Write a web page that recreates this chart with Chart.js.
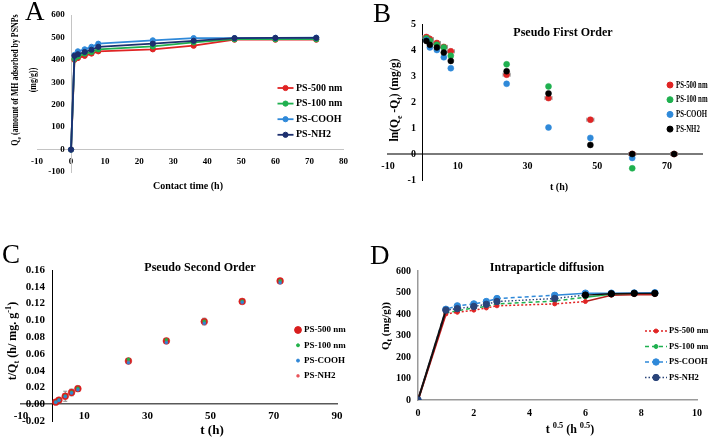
<!DOCTYPE html>
<html>
<head>
<meta charset="utf-8">
<script src="https://cdn.jsdelivr.net/npm/chart.js@4.4.1/dist/chart.umd.min.js"></script>
<style>
  body { margin: 0; background: #fff; width: 709px; height: 438px; position: relative; overflow: hidden; font-family: 'Liberation Serif', 'Times New Roman', serif; }
  canvas { position: absolute; }
  .t { position: absolute; font-weight: bold; white-space: nowrap; color: #000; transform: translate(-50%, -50%); line-height: 1; }
  .rot { transform: translate(-50%, -50%) rotate(-90deg); text-align: center; }
  .letter { position: absolute; font-size: 27px; line-height: 27px; color: #000; }
  .ttl { font-size: 12px; }
  .ax { font-size: 10px; }
  sub, sup { font-size: 70%; line-height: 0; }
</style>
</head>
<body>
<canvas id="chA" width="355" height="219" style="left:0;top:0"></canvas>
<canvas id="chB" width="354" height="219" style="left:355px;top:0"></canvas>
<canvas id="chC" width="355" height="219" style="left:0;top:219px"></canvas>
<canvas id="chD" width="354" height="219" style="left:355px;top:219px"></canvas>

<div class="letter" style="left:25px;top:-2px">A</div>
<div class="letter" style="left:373px;top:0px">B</div>
<div class="letter" style="left:2px;top:241px">C</div>
<div class="letter" style="left:370px;top:242px">D</div>

<div class="t ttl" style="left:563px;top:32px">Pseudo First Order</div>
<div class="t ttl" style="left:200px;top:267px">Pseudo Second Order</div>
<div class="t ttl" style="left:547px;top:267px">Intraparticle diffusion</div>

<div class="t ax" style="left:188px;top:186px">Contact time (h)</div>
<div class="t" style="left:24px;top:80px;line-height:18px;font-size:9.5px;text-align:center;transform:translate(-50%,-50%) rotate(-90deg) scaleX(0.83)">Q<sub>e</sub> (amount of MH adsorbed by PSNPs<br>(mg/g))</div>
<div class="t ax" style="left:559px;top:187px">t (h)</div>
<div class="t rot" style="left:395px;top:100px;font-size:11.5px">ln(Q<sub>e</sub> -Q<sub>t</sub>) (mg/g)</div>
<div class="t" style="left:212px;top:429px;font-size:13px">t (h)</div>
<div class="t rot" style="left:12px;top:341px;font-size:12px">t/Q<sub>t</sub> (h/ mg. g<sup>-1</sup>)</div>
<div class="t" style="left:570px;top:429px;font-size:12px">t <sup>0.5</sup> (h <sup>0.5</sup>)</div>
<div class="t rot" style="left:385px;top:326px;font-size:11px">Q<sub>t</sub> (mg/g))</div>

<script>
// series names
const seriesNames = ['PS-500 nm', 'PS-100 nm', 'PS-COOH', 'PS-NH2'];

// A - amount adsorbed vs contact time (h)
const timeA = [0, 1, 2, 4, 6, 8, 24, 36, 48, 60, 72];
const qA500 = [0, 400, 408, 418, 428, 438, 447, 463, 490, 490, 490];
const qA100 = [0, 405, 415, 428, 435, 447, 460, 478, 492, 492, 492];
const qACOOH = [0, 422, 438, 447, 458, 472, 487, 497, 497, 498, 499];
const qANH2 = [0, 418, 425, 435, 445, 458, 472, 485, 497, 498, 498];
const xTicksA = [-10, 0, 10, 20, 30, 40, 50, 60, 70, 80];
const yTicksA = [-100, 0, 100, 200, 300, 400, 500, 600];

// B - pseudo first order, ln(Qe-Qt)
const timeB = [1, 2, 4, 6, 8, 24, 36, 48, 60, 72];
const lnB500 = [4.5, 4.42, 4.27, 4.12, 3.95, 3.05, 2.15, 1.32, 0, 0];
const lnB100 = [4.45, 4.36, 4.2, 4.1, 3.78, 3.45, 2.6, null, -0.55, null];
const lnBCOOH = [4.38, 4.1, 4.0, 3.72, 3.3, 2.7, 1.02, 0.62, -0.15, null];
const lnBNH2 = [4.35, 4.2, 4.1, 3.9, 3.58, 3.18, 2.33, 0.35, 0, 0];
const errXB500 = [1, 1, 1, 1, 1, 1, 1, 1, 1, 1];
const errYB500 = [0.08, 0.08, 0.08, 0.08, 0.08, 0.08, 0.08, 0.08, 0.08, 0.08];
const xTicksB = [-10, 10, 30, 50, 70];
const yTicksB = [-1, 0, 1, 2, 3, 4, 5];

// C - pseudo second order, t/Qt
const timeC = [1, 2, 4, 6, 8, 24, 36, 48, 60, 72];
const tqC500 = [0.0025, 0.0049, 0.0095, 0.014, 0.0185, 0.0515, 0.0755, 0.0985, 0.1225, 0.147];
const tqC100 = [0.0027, 0.0051, 0.0098, 0.0144, 0.019, 0.0535, 0.0768, 0.099, 0.1228, 0.1472];
const tqCCOOH = [0.0023, 0.0046, 0.0091, 0.0134, 0.0172, 0.0495, 0.0735, 0.0965, 0.1215, 0.1448];
const tqCNH2 = [0.0025, 0.0048, 0.0094, 0.0138, 0.018, 0.051, 0.075, 0.0985, 0.1225, 0.147];
const errC500 = [0.002, 0.002, 0.006, 0.004, 0.003, 0.002, 0.002, 0.004, 0.0015, 0.001];
const xTicksC = [-10, 10, 30, 50, 70, 90];
const yTicksC = [-0.02, 0, 0.02, 0.04, 0.06, 0.08, 0.1, 0.12, 0.14, 0.16];

// D - intraparticle diffusion, sqrt(t)
const sqrtTimeD = [0, 1, 1.41, 2, 2.45, 2.83, 4.9, 6, 6.93, 7.75, 8.49];
const qD500 = [0, 400, 408, 418, 428, 438, 447, 458, 487, 490, 490];
const qD100 = [0, 405, 415, 428, 435, 447, 460, 478, 492, 492, 492];
const qDCOOH = [0, 422, 438, 447, 458, 472, 487, 497, 497, 498, 499];
const qDNH2 = [0, 418, 425, 435, 445, 458, 472, 488, 494, 496, 496];
const xTicksD = [0, 2, 4, 6, 8, 10];
const yTicksD = [0, 100, 200, 300, 400, 500, 600];

const RED = '#e02424', GREEN = '#1fb04f', BLUE = '#2f89d9', NAVY = '#1c2f6e';

Chart.defaults.font.family = "'Liberation Serif', 'Times New Roman', serif";
Chart.defaults.font.weight = 'bold';
Chart.defaults.color = '#000';
Chart.defaults.animation = false;
Chart.defaults.plugins.legend.display = false;
Chart.defaults.plugins.tooltip.enabled = false;

const pts = (xs, ys, ex, ey) => xs.map((x, i) => ({
  x: x, y: ys[i], ex: ex ? ex[i] : 0, ey: ey ? ey[i] : 0
})).filter(p => p.y !== null);

// grey error bars drawn under the markers
const errorBars = {
  id: 'errorBars',
  beforeDatasetsDraw(chart) {
    const { ctx, scales: { x, y } } = chart;
    ctx.save();
    ctx.strokeStyle = '#8a8a8a';
    ctx.lineWidth = 1;
    chart.data.datasets.forEach(ds => {
      ds.data.forEach(p => {
        const px = x.getPixelForValue(p.x), py = y.getPixelForValue(p.y);
        ctx.beginPath();
        if (p.ey) {
          const y1 = y.getPixelForValue(p.y + p.ey), y2 = y.getPixelForValue(p.y - p.ey);
          ctx.moveTo(px, y1); ctx.lineTo(px, y2);
          ctx.moveTo(px - 2, y1); ctx.lineTo(px + 2, y1);
          ctx.moveTo(px - 2, y2); ctx.lineTo(px + 2, y2);
        }
        if (p.ex) {
          const x1 = x.getPixelForValue(p.x - p.ex), x2 = x.getPixelForValue(p.x + p.ex);
          ctx.moveTo(x1, py); ctx.lineTo(x2, py);
          ctx.moveTo(x1, py - 2); ctx.lineTo(x1, py + 2);
          ctx.moveTo(x2, py - 2); ctx.lineTo(x2, py + 2);
        }
        ctx.stroke();
      });
    });
    ctx.restore();
  }
};

// legend drawn inside the plot
const boxLegend = {
  id: 'boxLegend',
  afterDraw(chart, args, o) {
    const ctx = chart.ctx;
    ctx.save();
    ctx.font = 'bold ' + o.size + "px 'Liberation Serif', serif";
    ctx.textBaseline = 'middle';
    chart.data.datasets.forEach((ds, i) => {
      const y = o.y + i * o.gap;
      if (o.half) {
        ctx.strokeStyle = ds.borderColor;
        ctx.lineWidth = ds.borderWidth;
        ctx.setLineDash(ds.borderDash || []);
        ctx.beginPath();
        ctx.moveTo(o.x - o.half, y); ctx.lineTo(o.x + o.half, y);
        ctx.stroke();
        ctx.setLineDash([]);
      }
      ctx.fillStyle = ds.borderColor;
      ctx.strokeStyle = ds.borderColor;
      ctx.lineWidth = 1;
      Chart.helpers.drawPoint(ctx, { pointStyle: ds.pointStyle || 'circle', radius: ds.pointRadius, rotation: 0, borderWidth: 1 }, o.x, y);
      ctx.fillStyle = '#000';
      ctx.save();
      ctx.translate(o.tx, y);
      ctx.scale(o.squeeze || 1, 1);
      ctx.fillText(ds.label, 0, 0);
      ctx.restore();
    });
    ctx.restore();
  }
};

// axis crossing the other one at zero; y labels get a trailing gap
function crossAxis(min, max, at, size, pad, color, width, tickList, fmt) {
  const a = {
    type: 'linear', min: min, max: max, position: at,
    grid: { display: false, drawTicks: false },
    border: { color: color, width: width },
    ticks: { padding: pad, font: { size: size }, maxRotation: 0, autoSkip: false },
    afterBuildTicks: s => { s.ticks = tickList.map(v => ({ value: v })); }
  };
  const f = fmt || (v => String(v));
  a.ticks.callback = ('x' in at) ? (v => f(v) + '\u2002\u2009') : f;
  return a;
}

function lineSet(label, xs, ys, color, order, extra) {
  return Object.assign({
    label: label, data: pts(xs, ys), showLine: true, order: order,
    borderColor: color, backgroundColor: color, borderWidth: 1.8,
    pointRadius: 2.6, pointBorderWidth: 1, pointBackgroundColor: color, pointBorderColor: color
  }, extra || {});
}

// ---- A ----
new Chart(document.getElementById('chA'), {
  type: 'scatter',
  data: {
    datasets: [
      lineSet(seriesNames[0], timeA, qA500, RED, 4),
      lineSet(seriesNames[1], timeA, qA100, GREEN, 3),
      lineSet(seriesNames[2], timeA, qACOOH, BLUE, 2),
      lineSet(seriesNames[3], timeA, qANH2, NAVY, 1)
    ]
  },
  options: {
    responsive: false,
    layout: { padding: { left: 37, right: 9, top: 15, bottom: 47 } },
    scales: {
      x: crossAxis(-10, 80, { y: 0 }, 9, 7, '#c4c4c4', 1, xTicksA),
      y: crossAxis(-100, 600, { x: 0 }, 9, 6, '#c4c4c4', 1, yTicksA)
    },
    plugins: { boxLegend: { x: 285.5, half: 8, y: 88, gap: 15.6, tx: 296, size: 10 } }
  },
  plugins: [boxLegend]
});

// ---- B ----
const dotSet = (label, data, color, order, r) => ({
  label: label, data: data, order: order, borderColor: color, backgroundColor: color,
  pointRadius: r, pointBorderWidth: 0.5, pointBackgroundColor: color, pointBorderColor: color
});
new Chart(document.getElementById('chB'), {
  type: 'scatter',
  data: {
    datasets: [
      dotSet(seriesNames[0], pts(timeB, lnB500, errXB500, errYB500), RED, 4, 3),
      dotSet(seriesNames[1], pts(timeB, lnB100), GREEN, 3, 3),
      dotSet(seriesNames[2], pts(timeB, lnBCOOH), BLUE, 2, 3),
      dotSet(seriesNames[3], pts(timeB, lnBNH2), '#000000', 1, 3)
    ]
  },
  options: {
    responsive: false,
    layout: { padding: { left: 33, right: 7, top: 24, bottom: 39 } },
    scales: {
      x: crossAxis(-10, 80, { y: 0 }, 10, 6, '#7a7a7a', 2, xTicksB),
      y: crossAxis(-1, 5, { x: 0 }, 10, 6, '#000', 1, yTicksB)
    },
    plugins: { boxLegend: { x: 315, half: 0, y: 85, gap: 14.7, tx: 321, size: 10, squeeze: 0.68 } }
  },
  plugins: [errorBars, boxLegend]
});

// ---- C ----
new Chart(document.getElementById('chC'), {
  type: 'scatter',
  data: {
    datasets: [
      dotSet(seriesNames[0], pts(timeC, tqC500, null, errC500), '#d81e1e', 4, 3.4),
      dotSet(seriesNames[1], pts(timeC, tqC100), '#22b24a', 2, 1.5),
      dotSet(seriesNames[2], pts(timeC, tqCCOOH), '#2f86d6', 1, 1.5),
      Object.assign(dotSet(seriesNames[3], pts(timeC, tqCNH2), '#e8545a', 3, 1.5), { pointStyle: 'rect' })
    ]
  },
  options: {
    responsive: false,
    layout: { padding: { left: 21, right: 18, top: 51, bottom: 17 } },
    scales: {
      x: crossAxis(-10, 90, { y: 0 }, 11, 5, '#595959', 1.5, xTicksC),
      y: crossAxis(-0.02, 0.16, { x: 0 }, 11, 6, '#000', 1, yTicksC, v => v.toFixed(2))
    },
    plugins: { boxLegend: { x: 298, half: 0, y: 111, gap: 15.3, tx: 304, size: 9 } }
  },
  plugins: [errorBars, boxLegend]
});

// ---- D ----
const solidFrom = (xFrom, first, firstColor, lateColor) => ({
  borderDash: c => ((first && c.p0.parsed.x < 0.5) || c.p0.parsed.x >= xFrom) ? [] : undefined,
  borderColor: c => (first && c.p0.parsed.x < 0.5) ? firstColor : (c.p0.parsed.x >= xFrom ? lateColor : undefined),
  borderWidth: c => (first && c.p0.parsed.x < 0.5) ? 2 : undefined
});
new Chart(document.getElementById('chD'), {
  type: 'scatter',
  data: {
    datasets: [
      lineSet(seriesNames[0], sqrtTimeD, qD500, RED, 2, {
        borderDash: [2, 2], pointRadius: 2, borderWidth: 1.5,
        segment: solidFrom(6, true, '#c8151b', '#b0221f')
      }),
      lineSet(seriesNames[1], sqrtTimeD, qD100, GREEN, 4, {
        borderDash: [4, 3], pointRadius: 2, borderWidth: 1.5,
        segment: solidFrom(6, false, null, GREEN)
      }),
      lineSet(seriesNames[2], sqrtTimeD, qDCOOH, BLUE, 3, {
        borderDash: [4, 3], pointRadius: 3.2, borderWidth: 1.5,
        segment: solidFrom(4.8, false, null, BLUE)
      }),
      lineSet(seriesNames[3], sqrtTimeD, qDNH2, '#2a4479', 1, {
        borderDash: [1.5, 2], pointRadius: 3.2, borderWidth: 1.4,
        pointBackgroundColor: c => c.parsed && c.parsed.x >= 6 ? '#000' : '#2a4479',
        pointBorderColor: c => c.parsed && c.parsed.x >= 6 ? '#000' : '#2a4479',
        segment: solidFrom(6, true, '#111', '#111')
      })
    ]
  },
  options: {
    responsive: false,
    layout: { padding: { left: 63, right: 11, top: 52, bottom: 38 } },
    scales: {
      x: crossAxis(0, 10, { y: 0 }, 10, 7, '#9a9a9a', 1.5, xTicksD),
      y: crossAxis(0, 600, { x: 0 }, 10, 8, '#9a9a9a', 1.5, yTicksD)
    },
    plugins: { boxLegend: { x: 301, half: 11, y: 112, gap: 15.5, tx: 314, size: 8.5 } }
  },
  plugins: [boxLegend]
});
</script>
</body>
</html>
